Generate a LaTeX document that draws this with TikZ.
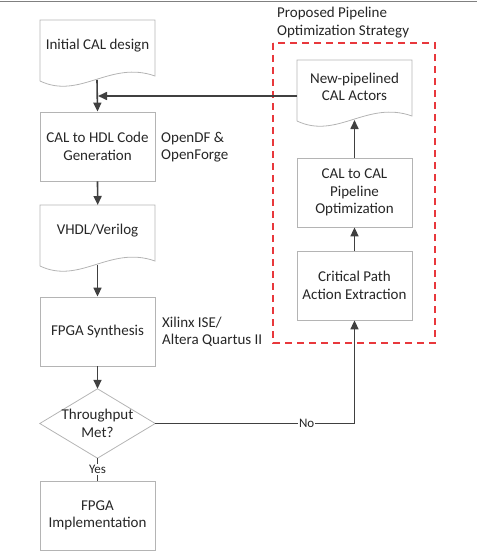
\documentclass[tikz,border=0pt]{standalone}
\usepackage{fontspec}
\setmainfont{Carlito}
\usetikzlibrary{arrows.meta}
\definecolor{boxgray}{HTML}{B4B4B4}
\definecolor{arrgray}{HTML}{404040}
\definecolor{txtgray}{HTML}{262626}
\definecolor{dashred}{HTML}{E8383C}
\tikzset{
  txt/.style={text=txtgray, font=\fontsize{15}{17.5}\selectfont},
  procbox/.style={txt, draw=boxgray, line width=0.8pt, minimum width=115pt, minimum height=69pt, inner sep=0pt, align=center},
  docarea/.style={minimum width=115pt, minimum height=55pt, inner sep=0pt, align=center},
  plain/.style={txt, inner sep=0pt, align=left},
  conn/.style={draw=arrgray, line width=1.6pt, -{Triangle[length=9pt,width=8pt]}},
  connl/.style={draw=arrgray, line width=1.1pt},
  lab/.style={fill=white, inner sep=1pt, font=\fontsize{13}{15}\selectfont, text=txtgray},
}
% document shape: #1 name, #2 left x, #3 top y, #4 text, #5 text center y offset
\newcommand{\mydoc}[5]{%
  \draw[boxgray, line width=0.8pt] (#2,#3+61) -- (#2,#3) -- (#2+115,#3) -- (#2+115,#3+56)
    .. controls (#2+70,#3+40) and (#2+40,#3+80) .. (#2,#3+61);
  \node[docarea, anchor=north west] (#1) at (#2,#3) {};
  \node[docarea, txt, anchor=center] at (#2+57.5,#3+#5) {#4};
  \coordinate (#1-w) at (#2+57,#3+60);
}
\begin{document}
\begin{tikzpicture}[x=1pt,y=-1pt]
\useasboundingbox (0,0) rectangle (477,551);
\draw[gray, line width=1pt] (0,1.5) -- (477,1.5);

% left column
\mydoc{init}{40}{20}{Initial CAL design}{26}
\node[procbox] (gen) at (97.5,146.5) {CAL to HDL Code\\Generation};
\mydoc{vhdl}{40}{205}{VHDL/Verilog}{26}
\node[procbox] (syn) at (97.5,331.5) {FPGA Synthesis};
\node[inner sep=0pt, minimum width=115pt, minimum height=69pt] (dec) at (97.5,423.5) {};
\draw[boxgray, line width=0.8pt] (dec.north) -- (dec.east) -- (dec.south) -- (dec.west) -- cycle;
\node[plain, align=center] at (dec.center) {Throughput\\Met?};
\node[procbox] (impl) at (97.5,515.5) {FPGA\\Implementation};

\node[plain, anchor=west] (odf) at (161,147) {OpenDF \&\\OpenForge};
\node[plain, anchor=west] (xil) at (162,332) {Xilinx ISE/\\Altera Quartus II};

% right column
\draw[dashred, line width=1.3pt, dash pattern=on 7pt off 5pt] (273,43) rectangle (435,343);
\node[plain, anchor=west] (title) at (277,22.5) {Proposed Pipeline\\Optimization Strategy};
\mydoc{newp}{297}{60}{New-pipelined\\CAL Actors}{27}
\node[procbox] (c2c) at (354.5,192.5) {CAL to CAL\\Pipeline\\Optimization};
\node[procbox] (crit) at (354.5,285.5) {Critical Path\\Action Extraction};

% connectors
\draw[conn] (init-w |- 0,80) -- (gen.north);
\coordinate (fb) at (98,96);
\draw[conn] (newp.west |- 0,96) -- (fb);
\draw[conn] (gen.south) -- (vhdl.north);
\draw[conn] (97.5,265) -- (syn.north);
\draw[conn] (syn.south) -- (dec.north);
\draw[conn] (crit.north) -- (c2c.south);
\draw[conn] (c2c.north) -- (354.5,120);
\draw[conn] (dec.east) -- (354.5,423.5) node[lab, pos=0.76] {No} -- (crit.south);
\draw[connl] (dec.south) -- node[lab] {Yes} (impl.north);
\end{tikzpicture}
\end{document}
